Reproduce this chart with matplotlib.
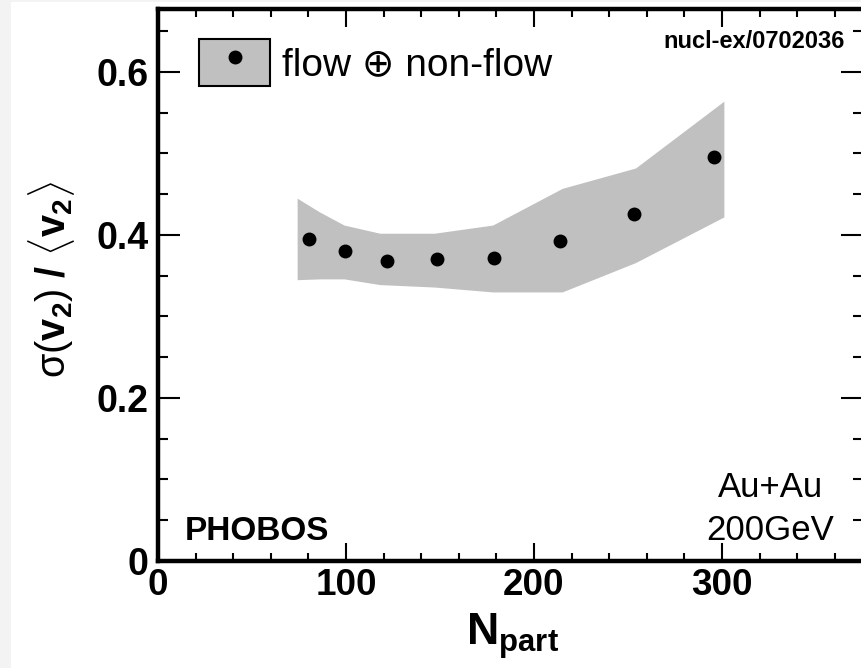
import matplotlib
matplotlib.use("Agg")
import matplotlib.pyplot as plt
from matplotlib.patches import Rectangle, Patch
from matplotlib.lines import Line2D
from matplotlib.legend_handler import HandlerTuple
from matplotlib.ticker import MultipleLocator, FuncFormatter

plt.rcParams['font.family'] = ['Liberation Sans', 'DejaVu Sans']
plt.rcParams['mathtext.fontset'] = 'custom'
plt.rcParams['mathtext.rm'] = 'Liberation Sans'
plt.rcParams['mathtext.it'] = 'Liberation Sans:italic'
plt.rcParams['mathtext.bf'] = 'Liberation Sans:bold'

# ---- data ----
npart = [80.5, 99.3, 122.0, 148.2, 178.7, 213.6, 253.4, 295.7]
ratio = [0.395, 0.380, 0.368, 0.370, 0.372, 0.392, 0.425, 0.495]

band_x = [74, 86, 99, 118, 147, 178, 215, 254, 301]
band_hi = [0.445, 0.428, 0.412, 0.402, 0.402, 0.412, 0.457, 0.482, 0.564]
band_lo = [0.345, 0.346, 0.346, 0.339, 0.336, 0.330, 0.330, 0.366, 0.422]

x_ticks = [0, 100, 200, 300]
y_ticks = [0, 0.2, 0.4, 0.6]
legend_label = "flow \u2295 non-flow"

W, H = 861, 668
fig = plt.figure(figsize=(W / 100, H / 100), dpi=100, facecolor='#f3f3f3')
bg = Rectangle((11 / W, 0), (W - 11) / W, (H - 2) / H,
               transform=fig.transFigure, facecolor='white',
               edgecolor='none', zorder=-10)
fig.patches.append(bg)

ax_l, ax_r, ax_b, ax_t = 158, 863, 561, 9
ax = fig.add_axes([ax_l / W, 1 - ax_b / H, (ax_r - ax_l) / W, (ax_b - ax_t) / H])
ax.set_zorder(5)
ax.set_facecolor('white')

band = ax.fill_between(band_x, band_lo, band_hi, color='#c0c0c0', linewidth=0, zorder=1)
pts, = ax.plot(npart, ratio, 'o', color='black', markersize=9, zorder=3)

ax.set_xlim(0, 375)
ax.set_ylim(0, 0.677)

ax.xaxis.set_major_locator(MultipleLocator(100))
ax.xaxis.set_minor_locator(MultipleLocator(20))
ax.yaxis.set_major_locator(MultipleLocator(0.2))
ax.yaxis.set_minor_locator(MultipleLocator(0.05))
ax.set_xticks(x_ticks)
ax.set_yticks(y_ticks)
ax.yaxis.set_major_formatter(FuncFormatter(lambda v, p: '0' if abs(v) < 1e-9 else f'{v:.1f}'))
ax.xaxis.set_major_formatter(FuncFormatter(lambda v, p: f'{int(round(v))}'))

for s in ['left', 'bottom', 'top', 'right']:
    ax.spines[s].set_linewidth(3.2)

ax.tick_params(which='both', direction='in', top=True, right=True, width=1.5)
ax.tick_params(axis='y', which='major', length=16, pad=7, labelsize=27)
ax.tick_params(axis='y', which='minor', length=7)
ax.tick_params(axis='x', which='major', length=13, pad=5, labelsize=26.5)
ax.tick_params(axis='x', which='minor', length=6)
for lab in ax.get_xticklabels() + ax.get_yticklabels():
    lab.set_fontweight('bold')

# legend
proxy_patch = Patch(facecolor='#c0c0c0', edgecolor='black', linewidth=1.5)
proxy_pt = Line2D([], [], marker='o', color='black', linestyle='none', markersize=9)
ax.legend([(proxy_patch, proxy_pt)], [legend_label],
          handler_map={tuple: HandlerTuple(ndivide=1, pad=0)},
          loc='upper left', bbox_to_anchor=((199 - ax_l) / (ax_r - ax_l), (ax_b - 39) / (ax_b - ax_t)),
          frameon=False, borderpad=0, borderaxespad=0, fontsize=28,
          handlelength=1.83, handleheight=1.48, handletextpad=0.3)

# texts
fig.text(845 / W, 1 - 48 / H, "nucl-ex/0702036", ha='right', va='baseline',
         fontsize=17, fontweight='bold', zorder=10)
fig.text(185 / W, 1 - 540 / H, "PHOBOS", ha='left', va='baseline',
         fontsize=24, fontweight='bold', zorder=10)
fig.text(770 / W, 1 - 497 / H, "Au+Au", ha='center', va='baseline', fontsize=25, zorder=10)
fig.text(770 / W, 1 - 540 / H, "200GeV", ha='center', va='baseline', fontsize=25, zorder=10)

fig.text(513 / W, 1 - 645 / H, r'$\mathbf{N}_{\mathbf{part}}$', ha='center', va='baseline',
         fontsize=32, zorder=10)
fig.text(52 / W, 1 - 279 / H,
         'σ(' + r'$\mathbf{v}_{\mathbf{2}}$' + r') $\mathbf{/}$ $\langle\mathbf{v}_{\mathbf{2}}\rangle$',
         rotation=90, ha='center', va='center', fontsize=28.5, zorder=10)

fig.savefig('out.png', dpi=100, facecolor=fig.get_facecolor())
